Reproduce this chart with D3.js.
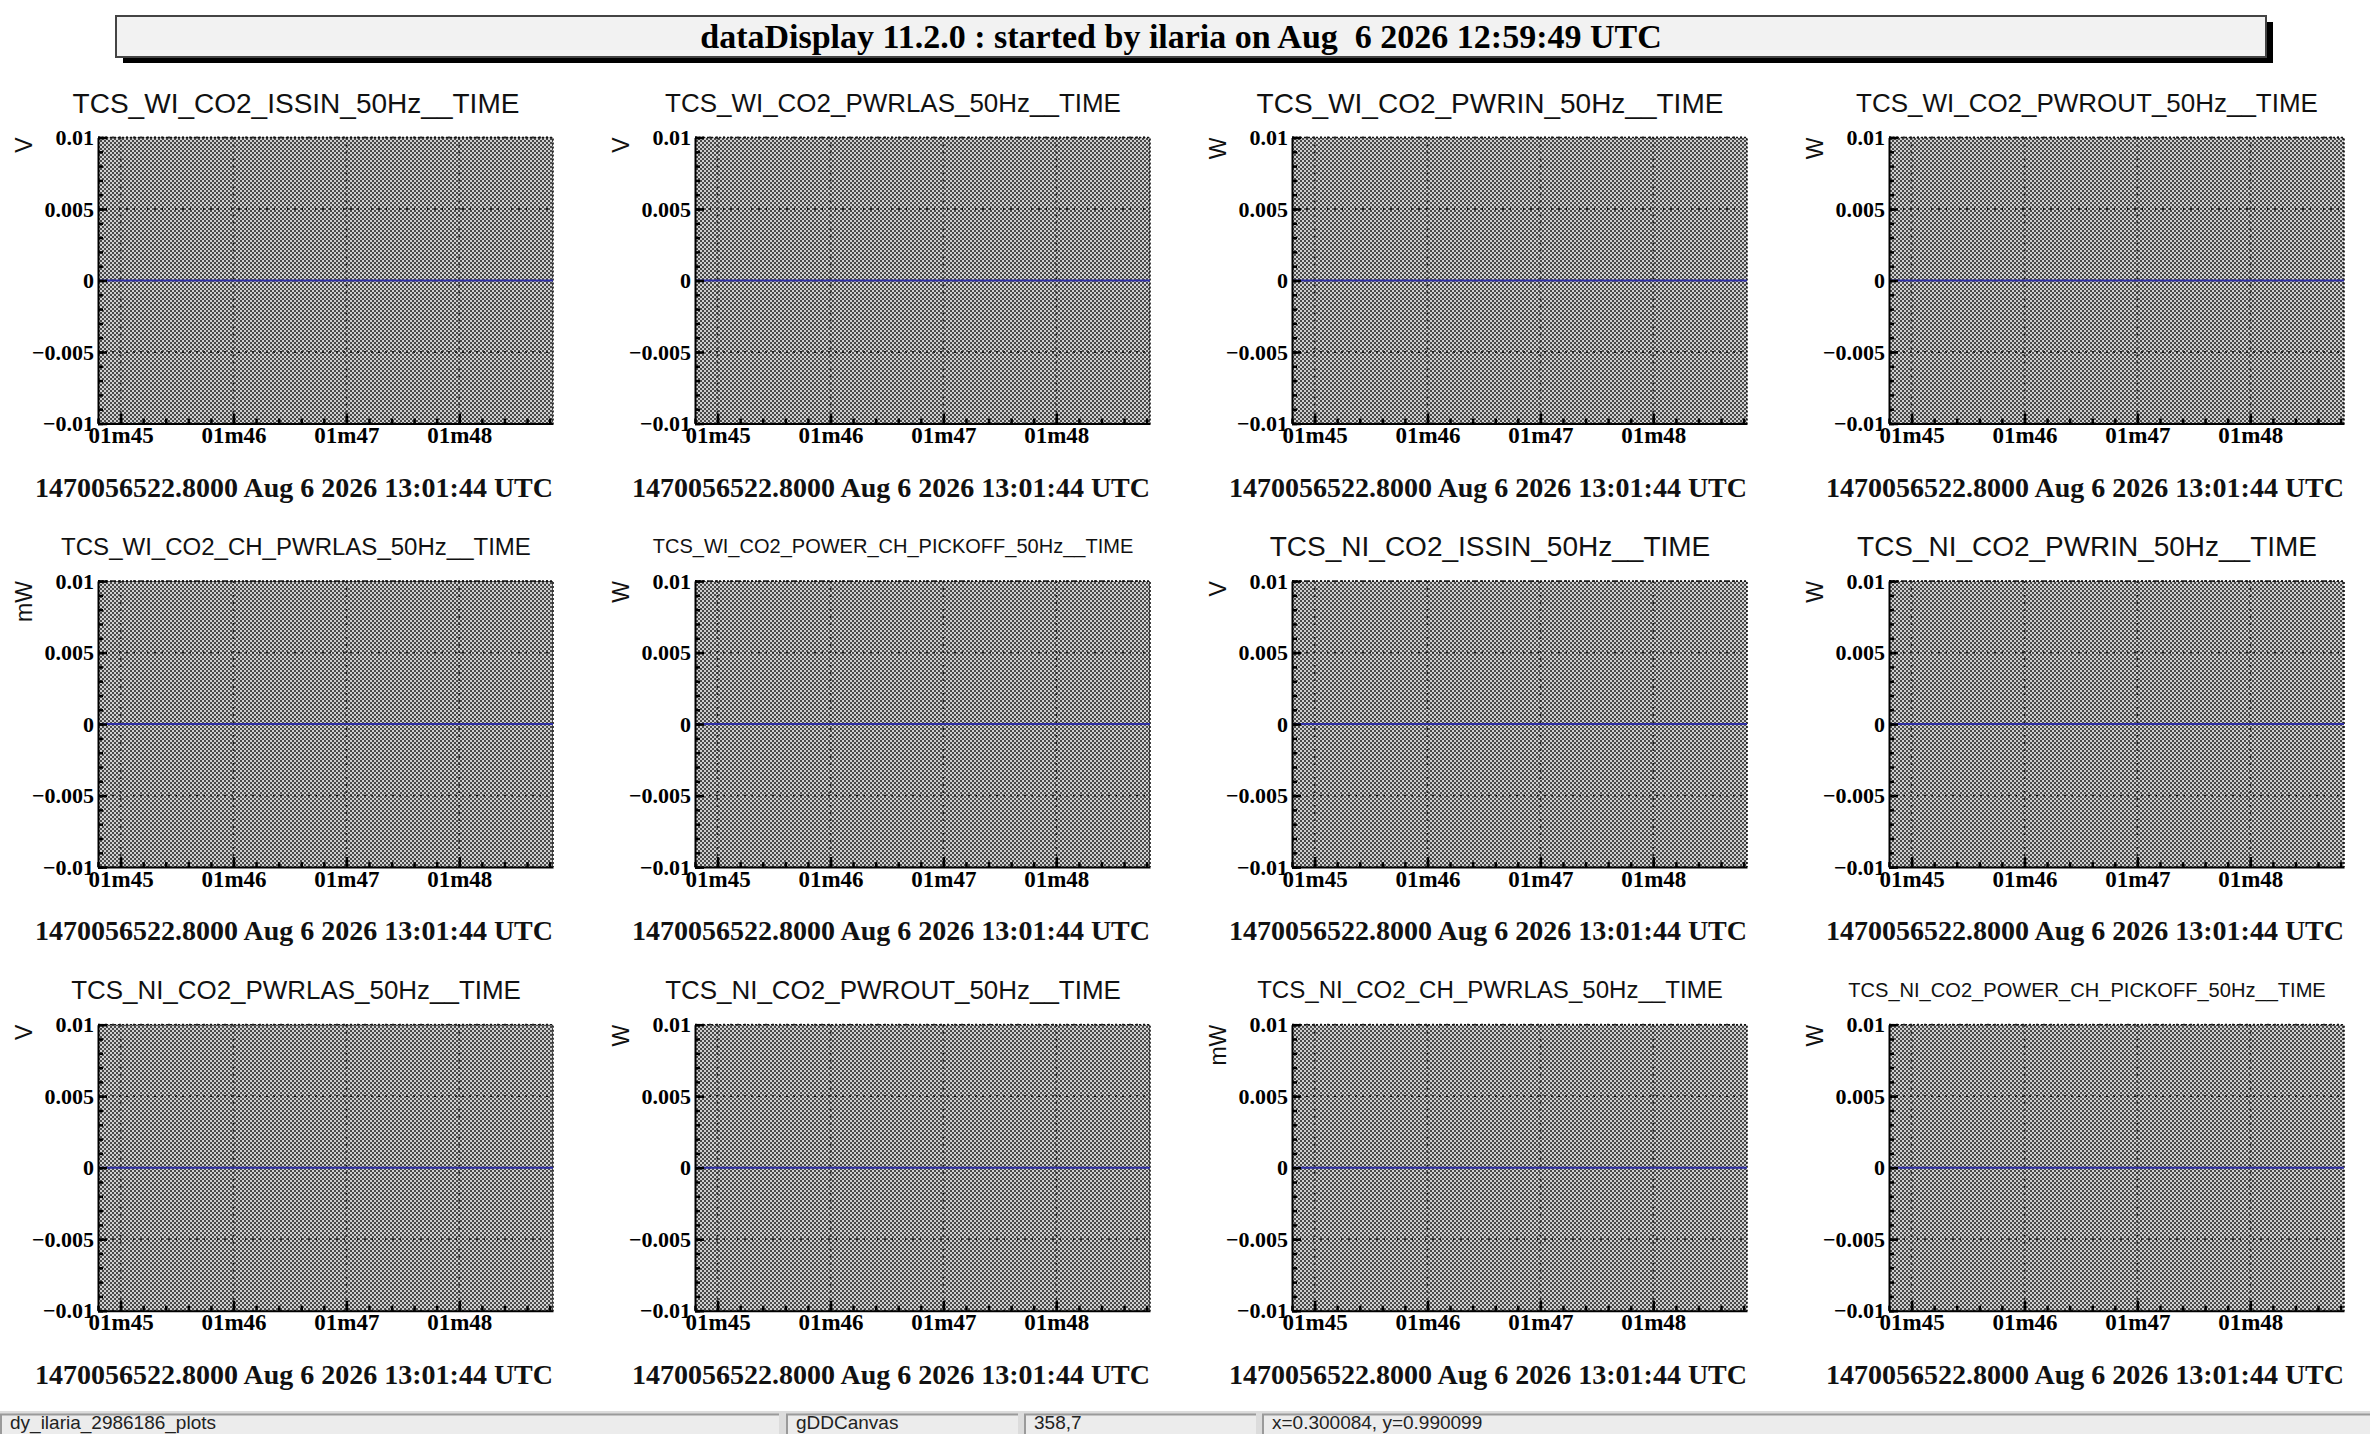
<!DOCTYPE html>
<html>
<head>
<meta charset="utf-8">
<script src="https://cdn.jsdelivr.net/npm/d3@7"></script>
<style>
  html, body { margin: 0; padding: 0; background: #ffffff; overflow: hidden; }
  svg { display: block; }
</style>
</head>
<body>
<svg id="chart" width="2370" height="1434"></svg>
<script>
// ---------------- data ----------------
const headerTitle = "dataDisplay 11.2.0 : started by ilaria on Aug  6 2026 12:59:49 UTC";

const panelTitles = [
  "TCS_WI_CO2_ISSIN_50Hz__TIME",
  "TCS_WI_CO2_PWRLAS_50Hz__TIME",
  "TCS_WI_CO2_PWRIN_50Hz__TIME",
  "TCS_WI_CO2_PWROUT_50Hz__TIME",
  "TCS_WI_CO2_CH_PWRLAS_50Hz__TIME",
  "TCS_WI_CO2_POWER_CH_PICKOFF_50Hz__TIME",
  "TCS_NI_CO2_ISSIN_50Hz__TIME",
  "TCS_NI_CO2_PWRIN_50Hz__TIME",
  "TCS_NI_CO2_PWRLAS_50Hz__TIME",
  "TCS_NI_CO2_PWROUT_50Hz__TIME",
  "TCS_NI_CO2_CH_PWRLAS_50Hz__TIME",
  "TCS_NI_CO2_POWER_CH_PICKOFF_50Hz__TIME"
];
const panelUnits = ["V", "V", "W", "W", "mW", "W", "V", "W", "V", "W", "mW", "W"];

const timeOffsetLabel = "1470056522.8000 Aug 6 2026 13:01:44 UTC";

// x axis: time window (UTC)
const xDomain = ["2026-08-06T13:01:44.800Z", "2026-08-06T13:01:48.830Z"];
const xTickTimes = ["2026-08-06T13:01:45Z", "2026-08-06T13:01:46Z", "2026-08-06T13:01:47Z", "2026-08-06T13:01:48Z"];
const xTickLabels = ["01m45", "01m46", "01m47", "01m48"];

// y axis
const yDomain = [-0.01, 0.01];
const yTickValues = [-0.01, -0.005, 0, 0.005, 0.01];
const yTickLabels = ["\u22120.01", "\u22120.005", "0", "0.005", "0.01"];

// series: sample times and values (all channels read 0)
const sampleTimes = ["2026-08-06T13:01:44.800Z", "2026-08-06T13:01:48.830Z"];
const seriesValues = [
  [0, 0], [0, 0], [0, 0], [0, 0],
  [0, 0], [0, 0], [0, 0], [0, 0],
  [0, 0], [0, 0], [0, 0], [0, 0]
];

const statusTexts = ["dy_ilaria_2986186_plots", "gDDCanvas", "358,7", "x=0.300084, y=0.990099"];

// ---------------- layout ----------------
const W = 2370, H = 1434;
const plotW = 455, plotH = 286;
const colPitch = 597, rowPitch = 443.6;
const firstLeft = 98, firstTop = 137.5;
// rendered width of each pad title (px)
const titleFitWidths = [447, 456, 467, 462, 470, 481, 441, 460, 450, 456, 466, 478];
const serif = "'Liberation Serif', 'Times New Roman', serif";
const sans = "'Liberation Sans', Arial, Helvetica, sans-serif";

const svg = d3.select("#chart");

// checker pattern
const defs = svg.append("defs");
const pat = defs.append("pattern")
  .attr("id", "checker").attr("patternUnits", "userSpaceOnUse")
  .attr("width", 4).attr("height", 4);
pat.append("rect").attr("width", 4).attr("height", 4).attr("fill", "#d0d0d0");
pat.append("rect").attr("width", 2).attr("height", 2).attr("fill", "#4a4a4a");
pat.append("rect").attr("x", 2).attr("y", 2).attr("width", 2).attr("height", 2).attr("fill", "#4a4a4a");

// header
const hdr = svg.append("g");
hdr.append("rect").attr("x", 123).attr("y", 22).attr("width", 2150).attr("height", 41).attr("fill", "#000");
hdr.append("rect").attr("x", 116).attr("y", 16).attr("width", 2150).attr("height", 41)
  .attr("fill", "#f2f2f2").attr("stroke", "#444").attr("stroke-width", 2);
hdr.append("text").attr("x", 1181).attr("y", 48).attr("text-anchor", "middle")
  .attr("font-family", serif).attr("font-weight", "bold").attr("font-size", 34)
  .style("white-space", "pre").attr("xml:space", "preserve")
  .text(headerTitle);

const parse = s => new Date(s);
const fmt = d3.utcFormat("%Mm%S");

panelTitles.forEach((title, i) => {
  const col = i % 4, row = Math.floor(i / 4);
  const left = firstLeft + col * colPitch;
  const top = firstTop + row * rowPitch;
  const padCenter = 296 + col * colPitch;

  const x = d3.scaleUtc().domain(xDomain.map(parse)).range([left, left + plotW]);
  const y = d3.scaleLinear().domain(yDomain).range([top + plotH, top]);

  const g = svg.append("g");

  // title (fit to width)
  const t = g.append("text").attr("x", padCenter).attr("y", top - 25)
    .attr("text-anchor", "middle").attr("font-family", sans).attr("font-size", 28)
    .attr("fill", "#111").text(title);
  const len = t.node().getComputedTextLength();
  const fs = 28 * titleFitWidths[i] / len;
  t.attr("font-size", fs).attr("y", top - 25 - (28 - fs) * 0.36);

  // frame fill
  g.append("rect").attr("x", left).attr("y", top).attr("width", plotW).attr("height", plotH)
    .attr("fill", "url(#checker)");

  // grid
  const grid = g.append("g").attr("stroke", "#2a2a2a").attr("stroke-width", 1.8)
    .attr("stroke-dasharray", "2,5");
  xTickTimes.map(parse).forEach(d => {
    grid.append("line").attr("x1", x(d)).attr("x2", x(d)).attr("y1", top).attr("y2", top + plotH);
  });
  yTickValues.forEach(v => {
    grid.append("line").attr("x1", left).attr("x2", left + plotW).attr("y1", y(v)).attr("y2", y(v));
  });

  // top/right frame edges (dotted)
  g.append("path")
    .attr("d", `M${left},${top}H${left + plotW}V${top + plotH}`)
    .attr("fill", "none").attr("stroke", "#111").attr("stroke-width", 1.6)
    .attr("stroke-dasharray", "2,2");

  // data line
  const pts = sampleTimes.map((s, k) => [parse(s), seriesValues[i][k]]);
  g.append("path").datum(pts)
    .attr("d", d3.line().x(d => x(d[0])).y(d => y(d[1])))
    .attr("fill", "none").attr("stroke", "#3030a8").attr("stroke-width", 2);

  // y axis minor ticks
  const yMinor = g.append("g").attr("transform", `translate(${left},0)`)
    .call(d3.axisLeft(y).ticks(20).tickSize(-5).tickFormat(""));
  yMinor.select(".domain").remove();
  yMinor.selectAll("line").attr("stroke", "#000").attr("stroke-width", 2.5);

  // y axis major
  const yAx = g.append("g").attr("transform", `translate(${left},0)`)
    .call(d3.axisLeft(y).tickValues(yTickValues).tickSizeInner(-9).tickSizeOuter(0).tickPadding(4)
      .tickFormat((d, k) => yTickLabels[k]));
  yAx.select(".domain").attr("stroke", "#000").attr("stroke-width", 2);
  yAx.selectAll(".tick line").attr("stroke", "#000").attr("stroke-width", 2.5);
  yAx.selectAll("text").attr("font-family", serif).attr("font-weight", "bold")
    .attr("font-size", 22).attr("fill", "#000").attr("dy", "0.33em");

  // x axis minor ticks
  const xMinor = g.append("g").attr("transform", `translate(0,${top + plotH})`)
    .call(d3.axisBottom(x).ticks(d3.utcMillisecond.every(200)).tickSize(-5).tickFormat(""));
  xMinor.select(".domain").remove();
  xMinor.selectAll("line").attr("stroke", "#000").attr("stroke-width", 2.5);

  // x axis major
  const xAx = g.append("g").attr("transform", `translate(0,${top + plotH})`)
    .call(d3.axisBottom(x).tickValues(xTickTimes.map(parse)).tickSizeInner(-10).tickSizeOuter(0)
      .tickPadding(3).tickFormat((d, k) => xTickLabels[k] || fmt(d)));
  xAx.select(".domain").attr("stroke", "#000").attr("stroke-width", 2);
  xAx.selectAll(".tick line").attr("stroke", "#000").attr("stroke-width", 2.5);
  xAx.selectAll("text").attr("font-family", serif).attr("font-weight", "bold")
    .attr("font-size", 23).attr("fill", "#000").attr("dy", "0.72em");

  // unit label
  g.append("text")
    .attr("transform", `translate(${left - 66},${top}) rotate(-90)`)
    .attr("text-anchor", "end").attr("font-family", sans).attr("font-size", 23)
    .attr("fill", "#111").text(panelUnits[i]);

  // time offset label
  g.append("text").attr("x", left + plotW).attr("y", top + plotH + 73)
    .attr("text-anchor", "end").attr("font-family", serif).attr("font-weight", "bold")
    .attr("font-size", 28).attr("fill", "#111").text(timeOffsetLabel);
});

// status bar
const sb = svg.append("g");
const boxes = [[0, 779], [786, 1018], [1024, 1256], [1262, 2370]];
sb.append("rect").attr("x", 0).attr("y", 1411).attr("width", W).attr("height", H - 1411).attr("fill", "#dcdcdc");
boxes.forEach((b, k) => {
  sb.append("rect").attr("x", b[0]).attr("y", 1414).attr("width", b[1] - b[0]).attr("height", H - 1414)
    .attr("fill", "#ececec");
  sb.append("path").attr("d", `M${b[0] + 1},${H}V1414.5H${b[1]}`)
    .attr("fill", "none").attr("stroke", "#9a9a9a").attr("stroke-width", 2);
  sb.append("text").attr("x", b[0] + 10).attr("y", 1429)
    .attr("font-family", sans)
    .attr("font-size", 19).attr("fill", "#222").text(statusTexts[k]);
});
</script>
</body>
</html>
